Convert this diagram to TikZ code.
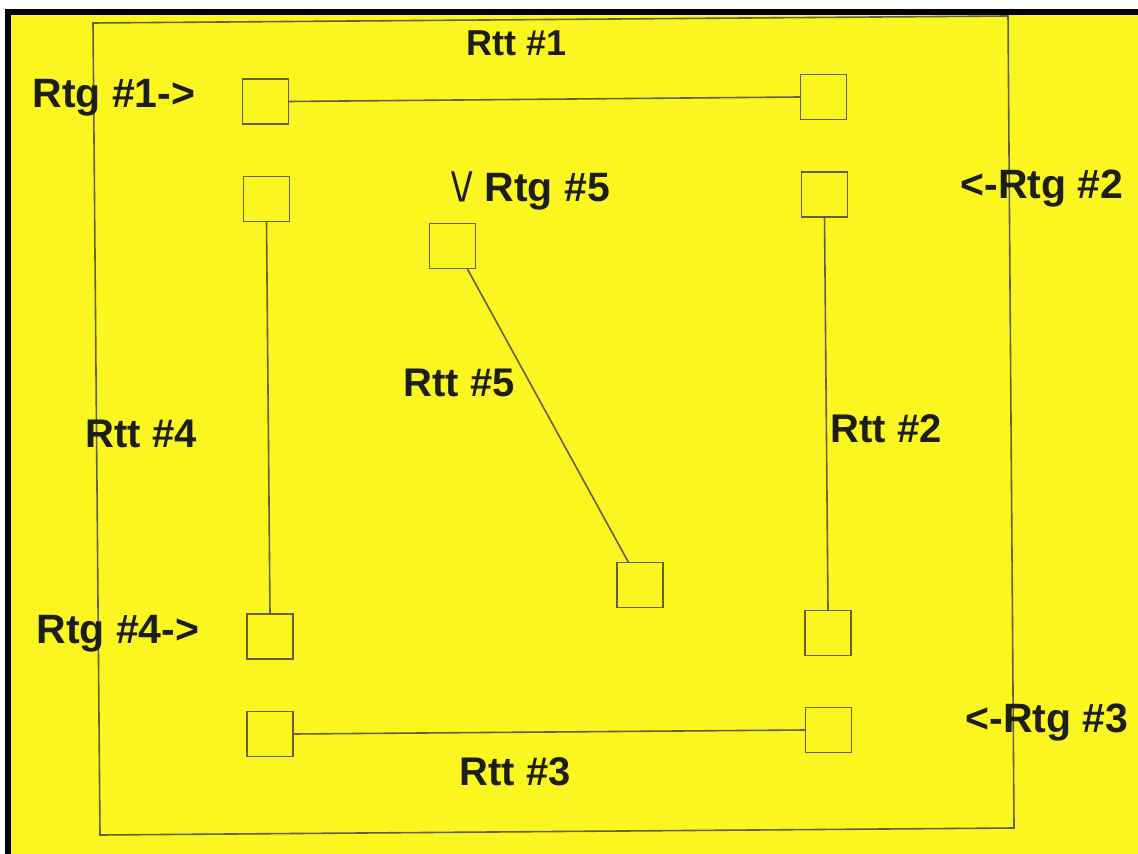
\documentclass[tikz,border=0pt]{standalone}
\usepackage{fontspec}
\setmainfont{Liberation Sans}
\definecolor{bgyellow}{RGB}{252,246,32}
\definecolor{ink}{RGB}{30,30,25}
\definecolor{wire}{RGB}{100,95,60}
\begin{document}
\begin{tikzpicture}[x=0.5pt,y=-0.5pt,
  sq/.style={draw=wire, line width=0.8pt, minimum width=23pt, minimum height=22.5pt, inner sep=0pt, outer sep=0pt},
  wirestyle/.style={draw=wire, line width=0.8pt},
  lbl/.style={anchor=base west, inner sep=0pt, text=ink, font=\fontsize{20.5pt}{24pt}\selectfont\bfseries},
  ttl/.style={anchor=base west, inner sep=0pt, text=ink, font=\fontsize{20pt}{24pt}\selectfont\bfseries}]
\useasboundingbox (0,0) rectangle (1138,854);
\fill[white] (0,0) rectangle (1138,854);
\fill[black] (5,9) rectangle (1138,854);
\fill[bgyellow] (11,15) rectangle (1138,854);
% outer frame (slightly skewed scan)
\draw[wirestyle] (93,23) -- (1008,16) -- (1014,828) -- (100,835) -- cycle;
% squares
\node[sq] (s1) at (265.5,101.5) {};
\node[sq] (s2) at (823.5,97) {};
\node[sq] (s3) at (266.5,199) {};
\node[sq] (s4) at (824.5,194.5) {};
\node[sq] (s5) at (270,636.5) {};
\node[sq] (s6) at (828,633) {};
\node[sq] (s7) at (270,734) {};
\node[sq] (s8) at (828.5,730) {};
\node[sq] (r5a) at (452.5,246) {};
\node[sq] (r5b) at (640,585) {};
% connectors
\draw[wirestyle] (s1.east) -- (s2.west);
\draw[wirestyle] (s3.south) -- (s5.north);
\draw[wirestyle] (s4.south) -- (s6.north);
\draw[wirestyle] (s7.east) -- (s8.west);
\draw[wirestyle] (r5a.-57) -- (r5b.117);
% labels
\node[ttl, font=\fontsize{18pt}{22pt}\selectfont\bfseries] (tt1) at (466,56) {Rtt \#1};
\node[ttl] (tt2) at (830,443) {Rtt \#2};
\node[ttl] (tt3) at (459,785) {Rtt \#3};
\node[ttl] (tt4) at (85,448) {Rtt \#4};
\node[ttl] (tt5) at (403,397) {Rtt \#5};
\node[lbl] (tg1) at (32,108) {Rtg \#1->};
\node[lbl] (tg2) at (960,199) {<-Rtg \#2};
\node[lbl] (tg3) at (965,732) {<-Rtg \#3};
\node[lbl] (tg4) at (36,643) {Rtg \#4->};
\node[lbl] (tg5) at (451,202) {{\mdseries\textbackslash\kern-0.5pt/} Rtg \#5};
\end{tikzpicture}
\end{document}
